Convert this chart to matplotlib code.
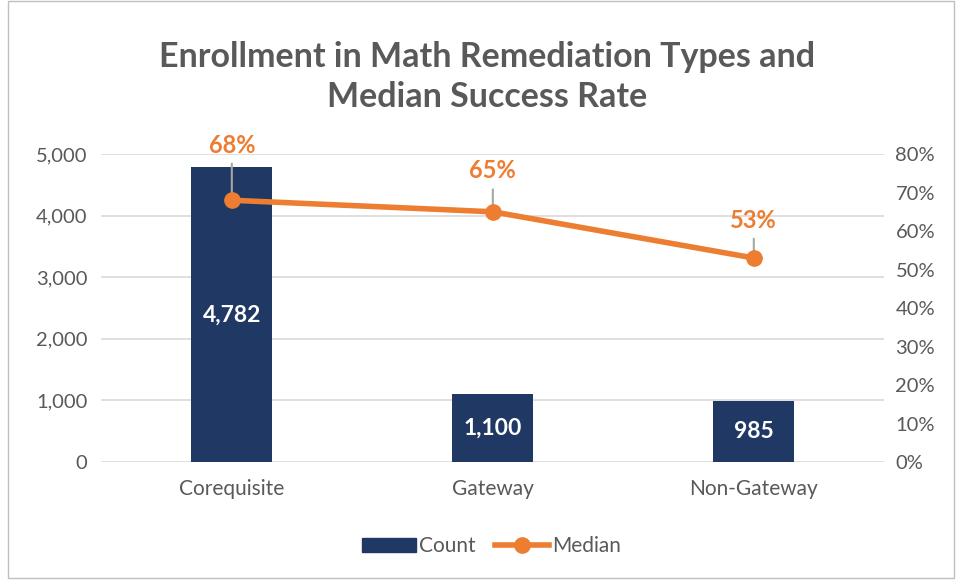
import matplotlib
matplotlib.use('Agg')
import matplotlib.pyplot as plt
from matplotlib.patches import Rectangle
from matplotlib.lines import Line2D

categories = ['Corequisite', 'Gateway', 'Non-Gateway']
counts = [4782, 1100, 985]
medians = [0.68, 0.65, 0.53]
count_labels = ['4,782', '1,100', '985']
median_labels = ['68%', '65%', '53%']
label_offsets = [0.143, 0.106, 0.098]   # where each % label sits above its point

navy = '#1f3864'
orange = '#ed7d31'
gray = '#595959'
plt.rcParams['font.family'] = ['Lato', 'DejaVu Sans']

fig = plt.figure(figsize=(9.56, 5.8), dpi=100)
ax = fig.add_axes([0.106, 0.2034, 0.819, 0.531])
ax2 = ax.twinx()

x = list(range(len(categories)))
ax.bar(x, counts, width=0.31, color=navy, zorder=2)
for xi, c, lab in zip(x, counts, count_labels):
    ax.text(xi, c / 2, lab, ha='center', va='center', color='white',
            fontsize=16.5, fontweight='bold', zorder=3)

ax.set_xlim(-0.5, 2.5)
ax.set_ylim(0, 5000)
ax.set_yticks([0, 1000, 2000, 3000, 4000, 5000])
ax.set_yticklabels(['{:,}'.format(v) for v in ax.get_yticks().astype(int)])
ax.set_xticks(x)
ax.set_xticklabels(categories)
ax.grid(axis='y', color='#d9d9d9', linewidth=1.2)
ax.set_axisbelow(True)
for s in ax.spines.values():
    s.set_visible(False)
for s in ax2.spines.values():
    s.set_visible(False)
ax.tick_params(length=0, labelsize=14.5, colors=gray, pad=10)
ax.tick_params(axis='x', labelsize=15, pad=12)

ax2.plot(x, medians, color=orange, linewidth=4, marker='o', markersize=11, zorder=4)
ax2.set_ylim(0, 0.8)
ax2.set_yticks([i / 10 for i in range(9)])
ax2.set_yticklabels(['{}%'.format(i * 10) for i in range(9)])
ax2.tick_params(length=0, labelsize=14.5, colors=gray, pad=8)
for xi, m, lab, off in zip(x, medians, median_labels, label_offsets):
    ax2.annotate(lab, xy=(xi, m), xytext=(xi, m + off), ha='center', va='center',
                 color=orange, fontsize=17, fontweight='bold',
                 arrowprops=dict(arrowstyle='-', color='#a6a6a6', linewidth=1.5,
                                 shrinkA=3, shrinkB=0))

fig.text(0.51, 0.867, 'Enrollment in Math Remediation Types and\nMedian Success Rate',
         ha='center', va='center', fontsize=24.5, fontweight='bold', color=gray,
         linespacing=1.3)

handles = [Rectangle((0, 0), 1, 1, color=navy),
           Line2D([], [], color=orange, linewidth=4, marker='o', markersize=11)]
fig.legend(handles, ['Count', 'Median'], loc='center', bbox_to_anchor=(0.514, 0.058),
           ncol=2, frameon=False, fontsize=15, labelcolor=gray,
           handlelength=2.6, handletextpad=0.15, columnspacing=0.9)

fig.patches.append(Rectangle((0.008, 0.003), 0.99, 0.995, transform=fig.transFigure,
                             fill=False, edgecolor='#bfbfbf', linewidth=1))

plt.savefig('out.png', dpi=100)
